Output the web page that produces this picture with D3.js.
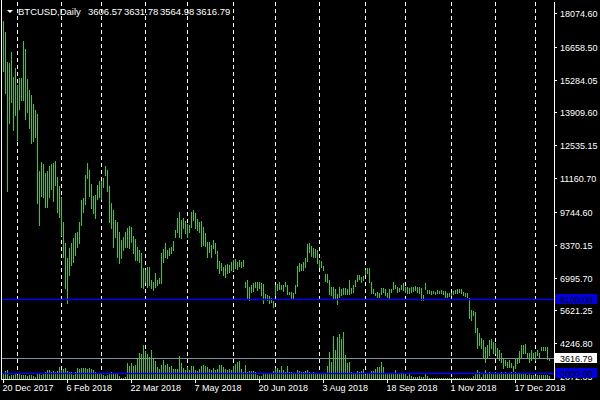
<!DOCTYPE html>
<html><head><meta charset="utf-8">
<script src="https://cdn.jsdelivr.net/npm/d3@7"></script>
<style>html,body{margin:0;padding:0;background:#000;overflow:hidden}svg{display:block}</style>
</head><body>
<svg id="c" width="600" height="400"></svg>
<script>
const symbol = "BTCUSD,Daily";
const firstDay = "2017-12-20", lastDay = "2019-01-11";
const holidays = ["2017-12-25","2018-01-01","2018-12-25","2019-01-01"];
const highs = [17750,17270,16020,15980,16440,15390,15770,15060,15350,15350,16900,16560,15310,14850,14640,14260,14010,13840,11460,11830,
11750,11370,11460,11660,11750,11790,11870,11200,10830,10370,9320,8440,7820,8230,8440,8650,8860,8900,9320,10250,
10330,11270,11790,11500,10900,10400,10450,10850,11050,11050,11150,11650,11500,10830,10120,9820,9400,9320,8900,8570,
8690,8900,9070,9150,9110,8740,8610,8270,8150,8020,7400,7310,7440,7440,6890,6810,7190,6890,6980,8020,
8190,8440,8150,8230,8270,8530,8990,9490,9740,9410,9490,9360,9240,9200,9740,9820,9700,9450,9320,9360,
9110,8860,8480,8480,8360,8570,8440,8110,7690,7610,7440,7520,7560,7520,7650,7730,7770,7650,7730,7650,
7730,6810,6890,6600,6690,6770,6810,6810,6810,6770,6730,6310,6270,6220,6140,6010,6700,6720,6820,6700,
6680,6800,6700,6400,6400,6330,6700,7500,7600,7550,7650,7800,8400,8450,8300,8250,8200,8150,7750,7700,
7500,7150,7150,6900,6600,6600,6500,6300,6600,6500,6550,6550,6500,6900,6550,6700,6900,7100,7100,7000,
7050,7300,7400,7400,6800,6500,6350,6400,6350,6550,6550,6500,6350,6500,6500,6800,6700,6600,6550,6700,
6770,6600,6600,6560,6600,6600,6640,6600,6600,6560,6270,6770,6480,6480,6430,6430,6390,6480,6430,6480,
6430,6430,6350,6350,6350,6430,6480,6520,6520,6520,6390,6350,6350,6140,5640,5600,5550,4890,4680,4470,
4380,4090,4170,4380,4420,4300,4260,4050,3960,3840,3630,3550,3460,3550,3420,3300,3630,3630,3920,4170,
4170,4220,3840,3840,3960,3840,3880,3960,3840,4090,4090,4090,4090,3631.78];
const lows = [15650,14720,10620,13460,14340,13170,13800,12760,14050,14430,14430,13630,13930,13250,12630,12710,12880,10110,9200,10410,
10370,9950,9950,10370,10700,10200,10870,9740,9530,8780,7860,6560,5930,7100,7520,7650,7940,8280,8440,9200,
9750,10080,11150,10400,9900,9700,9500,10300,10350,10300,10800,11300,10600,9320,9070,8270,8690,7860,7610,7820,
8150,8270,8270,8230,8480,8020,7730,7730,7650,6600,6560,6810,6600,6690,6560,6480,6600,6690,6770,6770,
7650,7860,7820,7940,8020,8150,8690,8900,8690,8650,9070,8860,8690,8900,9110,9410,9070,8990,8900,8320,
8360,8320,7860,8070,7860,8230,8020,7400,7190,7310,7100,7020,7190,7230,7310,7310,7400,7350,7480,7440,
7480,6600,6100,6060,6390,6430,6600,6480,6560,6270,5930,6140,6060,5930,5970,5760,6270,6480,6520,6500,
6450,6650,6300,6300,6150,6150,6350,6650,7250,7300,7300,7450,7700,8050,7900,7850,7850,7600,7450,7450,
7300,6850,6800,6300,6250,6100,6150,5900,6200,6250,6300,6300,6300,6300,6350,6400,6650,6850,6950,6800,
6900,7150,7200,6800,6350,6350,6250,6200,6200,6300,6400,6250,6200,6150,6400,6500,6550,6400,6450,6500,
6480,6390,6350,6350,6390,6430,6480,6390,6350,6060,6060,6520,6350,6350,6310,6350,6310,6350,6350,6350,
6310,6180,6180,6220,6270,6310,6350,6350,6390,6350,6270,6220,6180,5300,5220,5430,4720,4050,4170,4050,
3630,3460,3630,3760,4050,3840,3840,3670,3550,3460,3210,3340,3250,3250,3250,3090,3210,3420,3460,3630,
3840,3840,3630,3460,3550,3670,3550,3760,3670,3960,3960,3960,3590,3564.98];
const volumes = [5,8,9,3,4,4,5,4,5,4,4,4,3,4,4,3,2,5,5,4,5,
7,9,9,7,8,7,8,12,9,10,11,8,7,7,4,7,11,10,11,11,
11,10,11,10,9,7,6,5,6,4,3,4,6,7,6,5,6,3,1,1,2,
16,13,16,13,14,21,26,25,34,28,25,22,29,20,18,12,10,14,19,
14,15,12,13,10,10,10,23,16,11,9,12,9,13,13,9,8,10,13,14,
13,12,10,9,11,9,10,14,14,12,10,9,10,9,13,15,17,18,10,7,
14,7,8,8,8,7,4,3,3,6,6,5,5,5,8,11,
11,9,13,9,7,13,7,7,6,6,9,8,7,7,8,9,7,6,7,6,6,6,5,5,6,
13,27,17,43,29,42,45,40,47,24,16,17,
7,6,5,8,7,8,10,4,6,5,8,8,10,12,12,17,12,5,5,5,6,5,9,5,6,5,5,
5,3,5,3,2,2,2,3,2,2,5,3,1,1,
1,1,1,1,1,1,1,1,1,1,1,1,1,1,1,1,1,1,1,1,
3,5,9,7,2,5,9,
6,7,6,6,7,6,6,7,6,7,6,6,7,6,7,6,5,6,5,6,4,5,4,4,3,4,4,4,4,4,4,3];
const lastOpen = 3606.57, lastClose = 3616.79;
const priceTicks = [18074.60,16658.50,15284.05,13909.60,12535.15,11160.70,9744.60,8370.15,6995.70,5621.25,4246.80,2872.35];
const dateTickLabels = ["20 Dec 2017","6 Feb 2018","22 Mar 2018","7 May 2018","20 Jun 2018","3 Aug 2018","18 Sep 2018","1 Nov 2018","17 Dec 2018"];
const hLines = [6100, 3000];

const svg = d3.select("#c");
const W = 600, H = 400, plotRight = 554, axisY = 379;
svg.append("rect").attr("width", W).attr("height", H).attr("fill", "#000");

const parse = d3.utcParse("%Y-%m-%d"), fmt = d3.utcFormat("%Y-%m-%d");
const dates = d3.utcDay.range(parse(firstDay), d3.utcDay.offset(parse(lastDay), 1))
  .filter(d => d.getUTCDay() % 6 !== 0 && !holidays.includes(fmt(d)));
const keys = dates.map(fmt);
const x = d3.scalePoint().domain(keys).range([3.5, 3.5 + 2 * (keys.length - 1)]);
const y = d3.scaleLinear().domain([2872.35, 18074.60]).range([376.1, 12.85]);
const v = d3.scaleLinear().domain([0, d3.max(volumes)]).range([axisY, axisY - 47]);
const font = "'Liberation Sans', Arial, sans-serif";
const green = "#32CD32";
const blue = "#0000FF";

// monthly grid lines
const monthStarts = keys.filter((k, i) => i > 0 && k.slice(0, 7) !== keys[i - 1].slice(0, 7));
svg.append("g").selectAll("line").data(monthStarts).join("line")
  .attr("x1", d => x(d)).attr("x2", d => x(d))
  .attr("y1", 2).attr("y2", axisY)
  .attr("stroke", "#fff").attr("stroke-width", 1).attr("stroke-dasharray", "4,3")
  .attr("shape-rendering", "crispEdges");

// volumes
svg.append("g").selectAll("rect").data(volumes).join("rect")
  .attr("x", (d, i) => x(keys[i]) - 0.5).attr("width", 1)
  .attr("y", d => Math.round(v(d))).attr("height", d => axisY - Math.round(v(d)))
  .attr("fill", green).attr("shape-rendering", "crispEdges");

// price bars (high-low)
svg.append("g").selectAll("rect").data(highs).join("rect")
  .attr("x", (d, i) => x(keys[i]) - 0.5).attr("width", 1)
  .attr("y", d => Math.round(y(d)))
  .attr("height", (d, i) => Math.max(1, Math.round(y(lows[i])) - Math.round(y(d)) + 1))
  .attr("fill", green).attr("shape-rendering", "crispEdges");

// horizontal lines
svg.append("g").selectAll("line").data(hLines).join("line")
  .attr("x1", 1).attr("x2", plotRight)
  .attr("y1", d => Math.round(y(d)) + 0.5).attr("y2", d => Math.round(y(d)) + 0.5)
  .attr("stroke", blue).attr("stroke-width", 1.3);
svg.append("line").attr("x1", 1).attr("x2", plotRight)
  .attr("y1", Math.round(y(lastClose)) + 0.5).attr("y2", Math.round(y(lastClose)) + 0.5)
  .attr("stroke", "#8090A0").attr("shape-rendering", "crispEdges");

// frame
const frame = svg.append("g").attr("stroke", "#fff").attr("shape-rendering", "crispEdges");
frame.append("line").attr("x1", 1.5).attr("x2", 1.5).attr("y1", 0).attr("y2", axisY + 1);
frame.append("line").attr("x1", plotRight + 0.5).attr("x2", plotRight + 0.5).attr("y1", 2).attr("y2", axisY + 1);
frame.append("line").attr("x1", 1).attr("x2", plotRight + 1).attr("y1", axisY + 0.5).attr("y2", axisY + 0.5);

// right price axis
const pa = svg.append("g");
pa.selectAll("line").data(priceTicks).join("line")
  .attr("x1", plotRight).attr("x2", plotRight + 3)
  .attr("y1", d => Math.round(y(d)) + 0.5).attr("y2", d => Math.round(y(d)) + 0.5)
  .attr("stroke", "#fff").attr("shape-rendering", "crispEdges");
pa.selectAll("text").data(priceTicks).join("text")
  .attr("x", 560).attr("y", d => Math.round(y(d)) + 3.8)
  .attr("fill", "#fff").attr("font-family", font).attr("font-size", 9)
  .text(d => d.toFixed(2));

// date axis
const dateParse = d3.utcParse("%d %b %Y");
const da = svg.append("g");
da.selectAll("line").data(dateTickLabels).join("line")
  .attr("x1", d => x(fmt(dateParse(d)))).attr("x2", d => x(fmt(dateParse(d))))
  .attr("y1", axisY + 1).attr("y2", axisY + 4)
  .attr("stroke", "#fff").attr("shape-rendering", "crispEdges");
da.selectAll("text").data(dateTickLabels).join("text")
  .attr("x", d => x(fmt(dateParse(d))) - 1).attr("y", 391)
  .attr("fill", "#fff").attr("font-family", font).attr("font-size", 9)
  .text(d => d);

// price label boxes
function box(val, bg, fg) {
  const yy = Math.round(y(val));
  svg.append("rect").attr("x", 555).attr("y", yy - 5).attr("width", 42).attr("height", 10)
    .attr("fill", bg).attr("shape-rendering", "crispEdges");
  svg.append("text").attr("x", 560).attr("y", yy + 3.8).attr("fill", fg)
    .attr("font-family", font).attr("font-size", 9).text(val.toFixed(2));
}
hLines.forEach(d => box(d, "#0000DD", "#000"));
box(lastClose, "#fff", "#000");

// header
svg.append("path").attr("d", "M7,10L13,10L10,13Z").attr("fill", "#fff");
const hdr = [symbol, lastOpen.toFixed(2), highs[highs.length - 1].toFixed(2), lows[lows.length - 1].toFixed(2), lastClose.toFixed(2)];
const hdrX = [18, 88, 124, 160, 196];
svg.append("g").selectAll("text").data(hdr).join("text")
  .attr("x", (d, i) => hdrX[i]).attr("y", 14.5)
  .attr("fill", "#fff").attr("font-family", font).attr("font-size", 9.5)
  .text(d => d);
</script>
</body></html>
